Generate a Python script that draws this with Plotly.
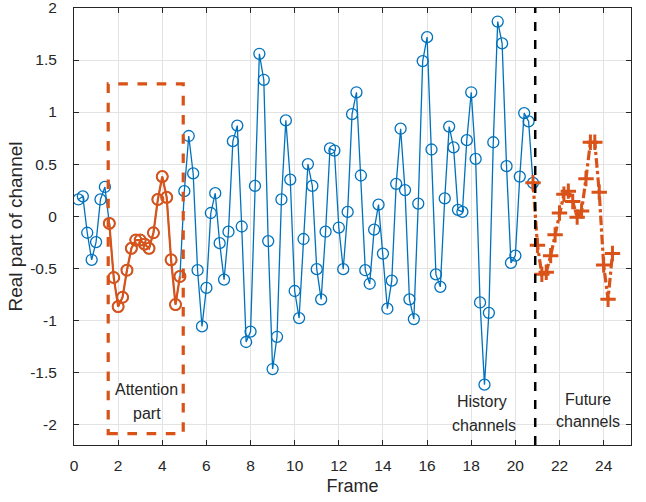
import numpy as np
import plotly.graph_objects as go

# ---- data ----
step = 0.2
history_vals = [
    0.16, 0.19, -0.16, -0.42, -0.25, 0.16, 0.28,
    -0.07, -0.59, -0.87, -0.78, -0.52, -0.31, -0.23, -0.23, -0.27, -0.31,
    -0.16, 0.16, 0.38, 0.18, -0.42, -0.85, -0.58,
    0.24, 0.77, 0.41, -0.52, -1.06, -0.69, 0.03, 0.22, -0.26, -0.61,
    -0.15, 0.72, 0.87, -0.10, -1.21, -1.11, 0.29, 1.56, 1.31, -0.24,
    -1.47, -1.16, 0.16, 0.92, 0.35, -0.72, -0.98, -0.22, 0.50, 0.29,
    -0.51, -0.80, -0.15, 0.65, 0.63, -0.11, -0.51, 0.04, 0.98, 1.19,
    0.39, -0.52, -0.65, -0.13, 0.11, -0.36, -0.89, -0.62, 0.31, 0.84,
    0.25, -0.80, -0.99, 0.12, 1.49, 1.72, 0.64, -0.56, -0.68, 0.17,
    0.86, 0.66, 0.06, 0.04, 0.73, 1.19, 0.55, -0.83, -1.62, -0.93,
    0.71, 1.87, 1.66, 0.48, -0.45, -0.38, 0.38, 0.99, 0.91, 0.32,
]
attn_start, attn_end = 7, 24  # indices into history (x = 1.6 .. 4.8)
future_vals = [0.32, -0.28, -0.56, -0.54, -0.38, -0.18, 0.03, 0.21, 0.24,
               0.14, -0.01, 0.05, 0.36, 0.71, 0.71, 0.23, -0.47, -0.80, -0.36]

hist_x = [round(step * (i + 1), 2) for i in range(len(history_vals))]
attn_x = hist_x[attn_start:attn_end]
attn_y = history_vals[attn_start:attn_end]
fut_x = [round(hist_x[-1] + step * i, 2) for i in range(len(future_vals))]

x_ticks = list(range(0, 25, 2))
y_ticks = [2, 1.5, 1, 0.5, 0, -0.5, -1, -1.5, -2]
y_labels = ["2", "1.5", "1", "0.5", "0", "-0.5", "-1", "-1.5", "-2"]

BLUE = "#0072BD"
ORANGE = "#D95319"
FONT = "Liberation Sans, Arial, sans-serif"
TXT = "#262626"

fig = go.Figure()
fig.add_trace(go.Scatter(
    x=hist_x, y=history_vals, mode="lines+markers",
    line=dict(color=BLUE, width=1.3),
    marker=dict(symbol="circle-open", size=11, color=BLUE, line=dict(width=1.3, color=BLUE)),
    showlegend=False))
fig.add_trace(go.Scatter(
    x=attn_x, y=attn_y, mode="lines+markers",
    line=dict(color=ORANGE, width=2.2),
    marker=dict(symbol="circle-open", size=11, color=ORANGE, line=dict(width=2, color=ORANGE)),
    showlegend=False))
fig.add_trace(go.Scatter(
    x=fut_x, y=future_vals, mode="lines+markers",
    line=dict(color=ORANGE, width=3.2, dash="dashdot"),
    marker=dict(symbol="cross-thin", size=11, color=ORANGE, line=dict(width=3, color=ORANGE)),
    showlegend=False))

# attention box and history/future boundary
fig.add_shape(type="rect", x0=1.55, x1=4.95, y0=-2.09, y1=1.27,
              line=dict(color=ORANGE, width=3.2, dash="dash"), layer="above")
fig.add_shape(type="line", x0=20.9, x1=20.9, y0=-2.2, y1=2,
              line=dict(color="black", width=2.5, dash="dash"), layer="above")

ann_font = dict(family=FONT, size=16, color=TXT)
for txt, xx, yy in [("Attention", 3.3, -1.67), ("part", 3.3, -1.90),
                    ("History", 18.47, -1.78), ("channels", 18.59, -2.01),
                    ("Future", 23.29, -1.76), ("channels", 23.29, -1.975)]:
    fig.add_annotation(x=xx, y=yy, text=txt, showarrow=False, font=ann_font,
                       xanchor="center", yanchor="middle")

axis_common = dict(
    showline=True, linecolor=TXT, linewidth=1, mirror="ticks",
    ticks="inside", ticklen=5, tickcolor=TXT, tickwidth=1,
    showgrid=True, gridcolor="#e3e3e3", gridwidth=1, zeroline=False,
    tickfont=dict(family=FONT, size=15.5, color=TXT),
    ticklabeloverflow="allow", automargin=False,
)
fig.update_xaxes(range=[0, 25.24], tickvals=x_ticks, ticklabelstandoff=6, **axis_common,
                 title=dict(text="Frame", font=dict(family=FONT, size=18, color=TXT), standoff=6))
fig.update_yaxes(range=[-2.2, 2.0001], tickvals=y_ticks, ticktext=y_labels,
                 ticklabelstandoff=13, **axis_common,
                 title=dict(text="Real part of channel", font=dict(family=FONT, size=19, color=TXT), standoff=2))

fig.update_layout(width=646, height=502, margin=dict(l=74, r=15, t=8, b=57),
                  plot_bgcolor="white", paper_bgcolor="white")
fig.write_html("out.html")
